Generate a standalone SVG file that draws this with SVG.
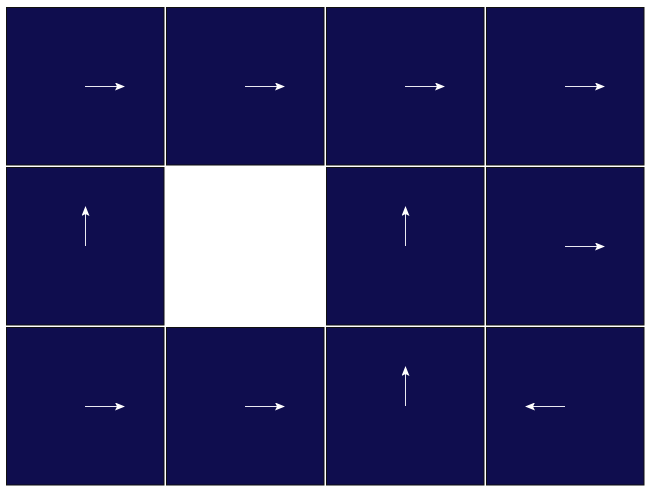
<svg xmlns="http://www.w3.org/2000/svg" width="665" height="500" viewBox="0 0 665 500">
<style>
.cell{fill:#0f0d4e;stroke:#111111;stroke-width:1}
.arr{stroke:#e8e8f0;stroke-width:1;fill:none;marker-end:url(#ah)}
</style>
<defs>
<marker id="ah" markerWidth="10" markerHeight="8" refX="9" refY="4" orient="auto" markerUnits="userSpaceOnUse">
<path d="M0,0 L10,4 L0,8 L2,4 Z" fill="#ffffff"/>
</marker>
</defs>
<rect width="665" height="500" fill="#ffffff"/>
<g id="c00"><rect class="cell" x="6.5" y="7.5" width="157.5" height="157.5"/></g>
<g id="c01"><rect class="cell" x="166.5" y="7.5" width="157.5" height="157.5"/></g>
<g id="c02"><rect class="cell" x="326.5" y="7.5" width="157.5" height="157.5"/></g>
<g id="c03"><rect class="cell" x="486.5" y="7.5" width="157.5" height="157.5"/></g>
<g id="c10"><rect class="cell" x="6.5" y="167.5" width="157.5" height="157.5"/></g>
<g id="c12"><rect class="cell" x="326.5" y="167.5" width="157.5" height="157.5"/></g>
<g id="c13"><rect class="cell" x="486.5" y="167.5" width="157.5" height="157.5"/></g>
<g id="c20"><rect class="cell" x="6.5" y="327.5" width="157.5" height="157.5"/></g>
<g id="c21"><rect class="cell" x="166.5" y="327.5" width="157.5" height="157.5"/></g>
<g id="c22"><rect class="cell" x="326.5" y="327.5" width="157.5" height="157.5"/></g>
<g id="c23"><rect class="cell" x="486.5" y="327.5" width="157.5" height="157.5"/></g>
<g id="connectors">
<line class="arr" x1="85" y1="86.5" x2="124" y2="86.5"/>
<line class="arr" x1="245" y1="86.5" x2="284" y2="86.5"/>
<line class="arr" x1="405" y1="86.5" x2="444" y2="86.5"/>
<line class="arr" x1="565" y1="86.5" x2="604" y2="86.5"/>
<line class="arr" x1="85.5" y1="246" x2="85.5" y2="207"/>
<line class="arr" x1="405.5" y1="246" x2="405.5" y2="207"/>
<line class="arr" x1="565" y1="246.5" x2="604" y2="246.5"/>
<line class="arr" x1="85" y1="406.5" x2="124" y2="406.5"/>
<line class="arr" x1="245" y1="406.5" x2="284" y2="406.5"/>
<line class="arr" x1="405.5" y1="406" x2="405.5" y2="367"/>
<line class="arr" x1="565" y1="406.5" x2="526" y2="406.5"/>
</g>
</svg>
